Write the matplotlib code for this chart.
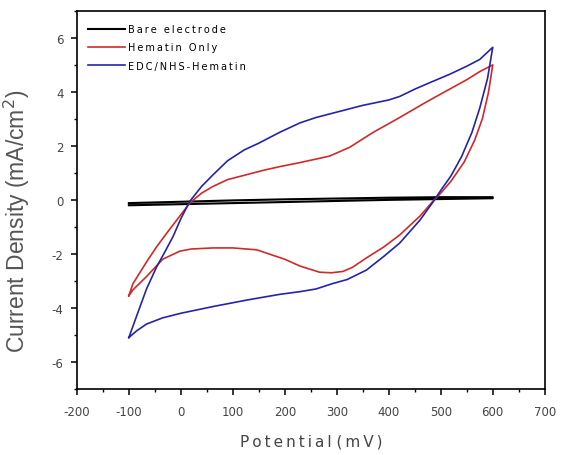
import matplotlib
matplotlib.use("Agg")
import matplotlib.pyplot as plt
import numpy as np

plt.rcParams['font.family'] = ['DejaVu Sans']
plt.rcParams['axes.unicode_minus'] = False

# bare electrode (forward / reverse sweep)
bare_x = [-100, 0, 100, 200, 300, 400, 500, 600]
bare_fwd = [-0.2, -0.16, -0.12, -0.08, -0.04, 0.0, 0.03, 0.06]
bare_rev = [-0.12, -0.07, -0.02, 0.02, 0.05, 0.08, 0.1, 0.1]

# hematin only
red_fwd_x = [-100, -92, -66, -47, -27, 0, 18, 40, 62, 90, 126, 160, 190, 229, 286, 325, 370, 421, 470,
             517, 550, 575, 600]
red_fwd_y = [-3.55, -3.1, -2.3, -1.75, -1.23, -0.55, -0.1, 0.25, 0.5, 0.75, 0.93, 1.1, 1.23, 1.38, 1.62,
             1.95, 2.5, 3.05, 3.6, 4.1, 4.45, 4.75, 5.0]
red_rev_x = [600, 592, 580, 565, 545, 520, 500, 485, 460, 421, 390, 357, 330, 312, 290, 267, 229, 200,
             146, 100, 62, 20, -2, -35, -66, -92, -100]
red_rev_y = [5.0, 4.0, 3.0, 2.2, 1.4, 0.7, 0.25, -0.05, -0.6, -1.3, -1.75, -2.15, -2.5, -2.65, -2.7, -2.68,
             -2.45, -2.2, -1.85, -1.78, -1.78, -1.82, -1.9, -2.2, -2.84, -3.33, -3.55]

# EDC/NHS-hematin
blue_fwd_x = [-100, -85, -66, -47, -30, -15, 0, 17, 40, 62, 90, 122, 150, 190, 229, 260, 300, 350, 400,
              421, 450, 480, 517, 550, 575, 600]
blue_fwd_y = [-5.1, -4.3, -3.3, -2.5, -1.9, -1.36, -0.7, -0.06, 0.5, 0.93, 1.45, 1.85, 2.1, 2.5, 2.85,
              3.05, 3.25, 3.5, 3.7, 3.83, 4.1, 4.35, 4.65, 4.95, 5.2, 5.65]
blue_rev_x = [600, 590, 575, 560, 540, 520, 500, 488, 460, 421, 390, 357, 320, 292, 260, 229, 190, 130,
              62, 0, -35, -66, -85, -100]
blue_rev_y = [5.65, 4.5, 3.4, 2.5, 1.6, 0.9, 0.35, 0.0, -0.75, -1.6, -2.1, -2.6, -2.95, -3.1, -3.3, -3.4,
              -3.5, -3.7, -3.95, -4.2, -4.37, -4.6, -4.85, -5.1]

labels = ["Bare electrode", "Hematin Only", "EDC/NHS-Hematin"]


def spaced(s):
    # the original renders its small text with wide letter spacing
    return '\u2009'.join(s)


fig = plt.figure(figsize=(5.61, 4.56), dpi=100)
ax = fig.add_axes([0.137, 0.145, 0.834, 0.829])

ax.plot(bare_x + bare_x[::-1], bare_fwd + bare_rev[::-1], color='black', lw=1.5, label=spaced(labels[0]))
ax.plot(red_fwd_x + red_rev_x, red_fwd_y + red_rev_y, color='#d02a2a', lw=1.2, label=spaced(labels[1]))
ax.plot(blue_fwd_x + blue_rev_x, blue_fwd_y + blue_rev_y, color='#2424a8', lw=1.2, label=spaced(labels[2]))

ax.set_xlim(-200, 700)
ax.set_ylim(-7, 7)
ax.set_xticks(np.arange(-200, 701, 100))
ax.set_xticks(np.arange(-150, 700, 100), minor=True)
ax.set_yticks(np.arange(-6, 7, 2))
ax.set_yticks(np.arange(-7, 8, 2), minor=True)
ax.tick_params(which='major', direction='out', length=4.5, width=1.1, labelsize=8.5, labelcolor='#444444')
ax.tick_params(axis='x', which='major', pad=7)
ax.tick_params(axis='y', which='major', pad=5)
ax.tick_params(which='minor', direction='out', length=2.5, width=1)
for s in ax.spines.values():
    s.set_linewidth(1.2)

ax.set_xlabel(spaced('Potential') + ' ' + spaced('(mV)'), fontsize=11, color='#444444')
ax.xaxis.set_label_coords(0.5, -0.118)
ax.set_ylabel('Current Density (mA/cm$^2$)', fontsize=16.5, color='#555555', family='Liberation Sans')
ax.yaxis.set_label_coords(-0.095, 0.447)

ax.legend(loc='upper left', frameon=False, fontsize=7, handlelength=3.8, handletextpad=0.3,
          labelspacing=0.85, borderaxespad=0.0, bbox_to_anchor=(0.015, 0.975))

fig.savefig('out.png', dpi=100)
